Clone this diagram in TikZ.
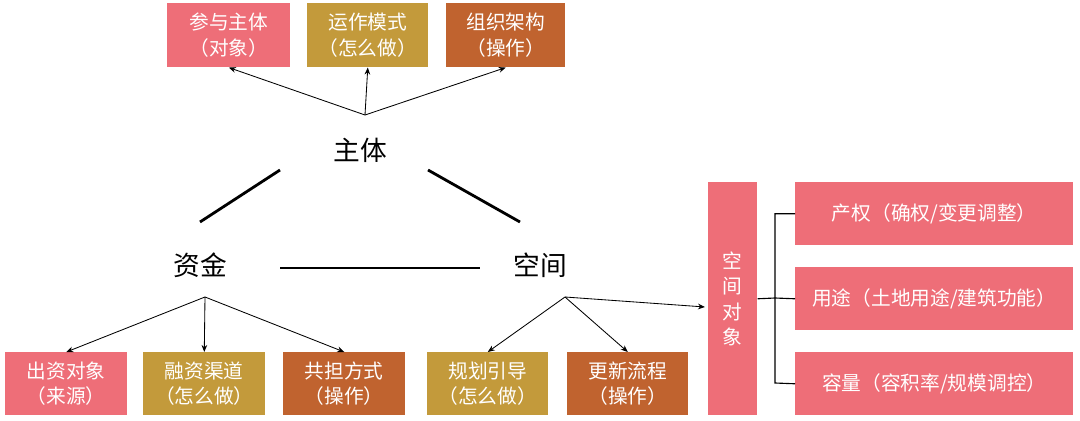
\documentclass[tikz,border=0pt]{standalone}
\usepackage{fontspec}
\setmainfont{Noto Sans CJK SC}
\usetikzlibrary{arrows.meta}
\definecolor{pk}{HTML}{EE6E78}
\definecolor{gd}{HTML}{C39A3B}
\definecolor{br}{HTML}{C0632F}
\tikzset{bx/.style={fill=#1,draw=none,text=white,align=center,inner sep=0pt,font=\fontsize{14}{18}\selectfont},
 ar/.style={-{Stealth[length=5pt,width=4pt]},line width=0.6pt},
 lb/.style={font=\fontsize{19}{22}\selectfont}}
\begin{document}
\begin{tikzpicture}[x=0.025cm,y=-0.025cm]
\useasboundingbox (0,0) rectangle (1080,421);
\newcommand\bxx[7]{\node[bx=#6,minimum width=#3*0.025cm,minimum height=#4*0.025cm,anchor=north west] (#5) at (#1,#2) {#7};}
\bxx{167}{3}{123}{64}{t1}{pk}{参与主体\\（对象）}
\bxx{307}{3}{121}{64}{t2}{gd}{运作模式\\（怎么做）}
\bxx{446}{3}{119}{64}{t3}{br}{组织架构\\（操作）}
\bxx{5}{352}{122}{63}{b1}{pk}{出资对象\\（来源）}
\bxx{143}{352}{122}{63}{b2}{gd}{融资渠道\\（怎么做）}
\bxx{283}{352}{122}{63}{b3}{br}{共担方式\\（操作）}
\bxx{427}{352}{121}{63}{b4}{gd}{规划引导\\（怎么做）}
\bxx{567}{352}{121}{63}{b5}{br}{更新流程\\（操作）}
\bxx{708}{182}{49}{233}{kd}{pk}{空\\间\\对\\象}
\bxx{795}{182}{278}{63}{r1}{pk}{产权（确权/变更调整）}
\bxx{795}{267}{278}{63}{r2}{pk}{用途（土地用途/建筑功能）}
\bxx{795}{352}{278}{63}{r3}{pk}{容量（容积率/规模调控）}
\node[lb] (zt) at (360,150) {主体};
\node[lb] (zj) at (200,265) {资金};
\node[lb] (kj) at (540,265) {空间};
\coordinate (o1) at (365,115);
\draw[ar] (o1) -- (t1.south); \draw[ar] (o1) -- (t2.south); \draw[ar] (o1) -- (t3.south);
\coordinate (o2) at (205,297);
\draw[ar] (o2) -- (b1.north); \draw[ar] (o2) -- (b2.north); \draw[ar] (o2) -- (b3.north);
\coordinate (o3) at (565,297);
\draw[ar] (o3) -- (b4.north); \draw[ar] (o3) -- (b5.north); \draw[ar] (o3) -- (705,307);
\draw[line width=2pt] (200,222) -- (280,170);
\draw[line width=2pt] (428,170) -- (520,222);
\draw[line width=2pt] (280,268) -- (480,268);
\draw[line width=0.8pt] (kd.east) -- (775,298);
\draw[line width=0.8pt] (r1.west) -| (775,383) -- (r3.west);
\draw[line width=0.8pt] (775,298) -- (r2.west);
\end{tikzpicture}
\end{document}
